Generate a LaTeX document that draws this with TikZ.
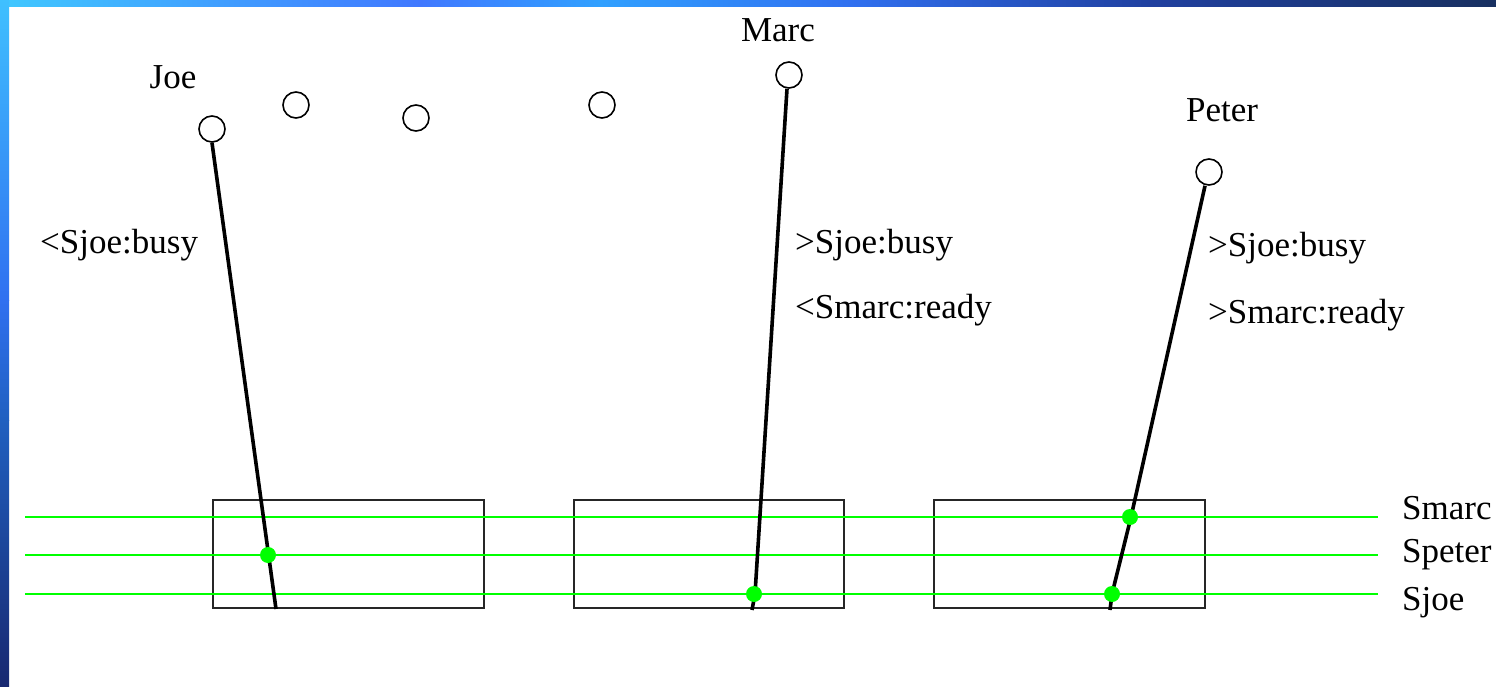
\documentclass[tikz,border=0pt]{standalone}
\usepackage{fontspec}
\setmainfont{Liberation Serif}
\begin{document}
\begin{tikzpicture}[x=1pt,y=-1pt,
  actor/.style={circle,draw=black,line width=1.6pt,fill=white,minimum size=26pt,inner sep=0pt},
  lbl/.style={font=\fontsize{35}{35}\selectfont,inner sep=0pt,anchor=west},
  actorname/.style={font=\fontsize{35}{35}\selectfont,inner sep=0pt},
  stroke/.style={line width=3.6pt,black},
  gline/.style={line width=2pt,draw=green},
  boxst/.style={draw=black!85,line width=1.6pt,inner sep=0pt},
  gdot/.style={circle,fill=green,inner sep=0pt,minimum size=16pt}]
\useasboundingbox (0,0) rectangle (1496,687);
\fill[white] (0,0) rectangle (1496,687);
% frame
\shade[left color={rgb,255:red,64;green,200;blue,255},right color={rgb,255:red,64;green,120;blue,255}] (0,0) rectangle (420,7);
\shade[left color={rgb,255:red,64;green,120;blue,255},right color={rgb,255:red,48;green,160;blue,255}] (420,0) rectangle (600,7);
\shade[left color={rgb,255:red,48;green,160;blue,255},right color={rgb,255:red,48;green,112;blue,240}] (600,0) rectangle (850,7);
\shade[left color={rgb,255:red,48;green,112;blue,240},right color={rgb,255:red,32;green,64;blue,160}] (850,0) rectangle (1150,7);
\shade[left color={rgb,255:red,32;green,64;blue,160},right color={rgb,255:red,24;green,48;blue,96}] (1150,0) rectangle (1496,7);
\shade[top color={rgb,255:red,64;green,192;blue,255},bottom color={rgb,255:red,48;green,112;blue,240}] (0,0) rectangle (9,300);
\shade[top color={rgb,255:red,48;green,112;blue,240},bottom color={rgb,255:red,32;green,96;blue,192}] (0,300) rectangle (9,420);
\shade[top color={rgb,255:red,32;green,96;blue,192},bottom color={rgb,255:red,24;green,40;blue,112}] (0,420) rectangle (9,687);
% boxes
\node[boxst,minimum width=271pt,minimum height=108pt] (b1) at (348.5,554) {};
\node[boxst,minimum width=270pt,minimum height=108pt] (b2) at (709,554) {};
\node[boxst,minimum width=271pt,minimum height=108pt] (b3) at (1069.5,554) {};
% green lines
\coordinate (gs1) at (25,517); \coordinate (ge1) at (1378,517);
\coordinate (gs2) at (25,555); \coordinate (ge2) at (1378,555);
\coordinate (gs3) at (25,594); \coordinate (ge3) at (1378,594);
\draw[gline] (gs1) -- (ge1);
\draw[gline] (gs2) -- (ge2);
\draw[gline] (gs3) -- (ge3);
\node[lbl] (smarc) at (1402,508) {Smarc};
\node[lbl] (speter) at (1402,555) {Speter};
\node[lbl] (sjoe) at (1402,603) {Sjoe};
% actors
\node[actor] (joe) at (212,129) {};
\node[actor] (c1) at (296,105) {};
\node[actor] (c2) at (416,118) {};
\node[actor] (c3) at (602,105) {};
\node[actor] (marc) at (789,75) {};
\node[actor] (peter) at (1209,172) {};
\node[actorname] (joel) at (173,77) {Joe};
\node[actorname] (marcl) at (778,30) {Marc};
\node[actorname] (peterl) at (1222,110) {Peter};
% world lines
\coordinate (je) at (276,609);
\coordinate (mk) at (755,594); \coordinate (me) at (752,610);
\coordinate (pk1) at (1131,517); \coordinate (pk2) at (1112,594); \coordinate (pe) at (1110,610);
\draw[stroke] (joe.south) -- (je);
\draw[stroke] ([xshift=-2pt]marc.south) -- (mk) -- (me);
\draw[stroke] ([xshift=-4pt]peter.south) -- (pk1) -- (pk2) -- (pe);
% green dots
\node[gdot] (d1) at (268,555) {};
\node[gdot] (d2) at (754,594) {};
\node[gdot] (d3) at (1130,517) {};
\node[gdot] (d4) at (1112,594) {};
% labels
\node[lbl] (t1) at (40,245) {<Sjoe:busy};
\node[lbl] (t2) at (795,245) {>Sjoe:busy};
\node[lbl] (t3) at (795,310) {<Smarc:ready};
\node[lbl] (t4) at (1208,248) {>Sjoe:busy};
\node[lbl] (t5) at (1208,315) {>Smarc:ready};
\end{tikzpicture}
\end{document}
